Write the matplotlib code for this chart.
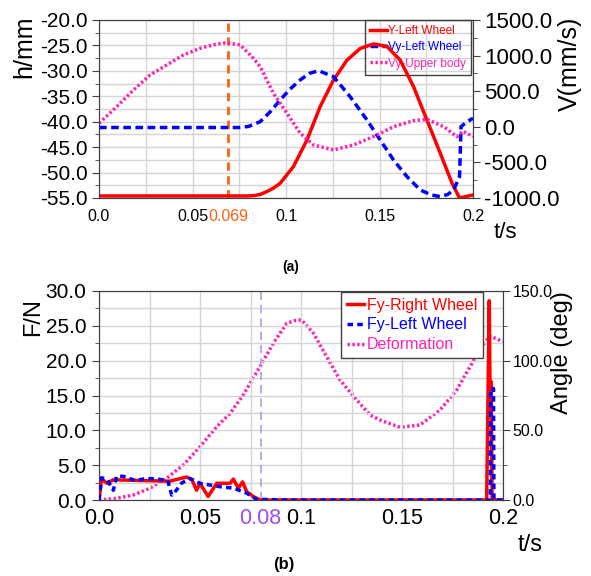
import matplotlib
matplotlib.use('Agg')
import matplotlib.pyplot as plt
from matplotlib.ticker import MultipleLocator, FormatStrFormatter

# (a) wheel height / velocities
t_y_left = [0, 0.080, 0.0835, 0.0862, 0.090, 0.0935, 0.0969, 0.104, 0.1112, 0.1183, 0.1254,
            0.1326, 0.1397, 0.1468, 0.154, 0.1611, 0.1682, 0.1754, 0.1825, 0.1888, 0.1928, 0.2]
y_left = [-54.6, -54.6, -54.5, -54.3, -53.7, -53.0, -52.1, -48.8, -43.6, -37.0, -31.8,
          -27.9, -25.6, -24.7, -25.2, -27.9, -33.1, -39.7, -46.2, -52.1, -55.0, -54.4]

t_vy_left = [0, 0.075, 0.080, 0.0862, 0.0915, 0.0969, 0.1022, 0.1076, 0.1125, 0.1174, 0.1254,
             0.1343, 0.1433, 0.1504, 0.1575, 0.1647, 0.1718, 0.1775, 0.1825, 0.1865, 0.1896,
             0.1928, 0.1936, 0.1968, 0.2]
vy_left = [-10, -10, 5, 72, 210, 377, 530, 658, 750, 788, 704,
           423, 96, -185, -466, -700, -887, -955, -981, -950, -887,
           -700, 2, 72, 120]

t_vy_body = [0, 0.0095, 0.0184, 0.0273, 0.0362, 0.0451, 0.054, 0.063, 0.0683, 0.0755, 0.0826,
             0.0862, 0.0933, 0.1005, 0.1076, 0.1147, 0.1254, 0.1361, 0.1468, 0.1575, 0.1682,
             0.1754, 0.1843, 0.1914, 0.1946, 0.2]
vy_body = [50, 283, 517, 728, 868, 1009, 1102, 1163, 1181, 1150, 962,
           844, 471, 190, -91, -255, -325, -255, -138, 2, 86,
           106, 2, -138, -60, -138]

# (b) wheel forces / deformation angle
t_fy_right = [0, 0.0013, 0.0038, 0.0071, 0.020, 0.035, 0.0434, 0.046, 0.0483, 0.050, 0.054,
              0.0583, 0.0649, 0.0665, 0.069, 0.0711, 0.0731, 0.0764, 0.0797, 0.1919, 0.1932,
              0.1937, 0.1941, 0.1946, 0.2]
fy_right = [0, 3.1, 2.4, 2.9, 2.8, 2.7, 3.3, 2.9, 1.4, 2.4, 0.5,
            2.4, 2.4, 3.0, 1.7, 2.6, 1.2, 0.5, 0, 0, 28.6,
            12, 17, 0, 0]

t_fy_left = [0, 0.0013, 0.004, 0.0071, 0.0087, 0.012, 0.018, 0.0236, 0.029, 0.034, 0.036,
             0.0383, 0.0408, 0.045, 0.050, 0.060, 0.0665, 0.073, 0.078, 0.0936, 0.1937,
             0.1939, 0.1953, 0.1955, 0.2]
fy_left = [0, 3.2, 2.9, 1.4, 3.4, 3.4, 2.8, 3.1, 3.0, 2.8, 0.7,
           1.4, 2.4, 3.1, 2.4, 1.9, 1.7, 1.0, 0.1, 0, 0,
           16, 16, 0, 0]

t_deform = [0, 0.0088, 0.017, 0.0252, 0.0335, 0.0417, 0.05, 0.0583, 0.0649, 0.0714, 0.0797,
            0.0863, 0.0929, 0.0979, 0.1003, 0.1061, 0.1127, 0.1193, 0.1276, 0.1342, 0.1391,
            0.149, 0.1589, 0.1688, 0.1771, 0.1837, 0.1894, 0.1936, 0.2]
deform = [0, 1.2, 3.6, 8.4, 15.6, 25.1, 38.3, 52.6, 62.2, 75.4, 95.7,
          112.5, 126.8, 129.2, 129.2, 119.7, 102.9, 86.1, 71.8, 61, 57.4,
          52.2, 53.8, 64.6, 79, 95.7, 110, 117.7, 113.6]

x_ticks_a = [0.0, 0.05, 0.069, 0.1, 0.15, 0.2]
x_labels_a = ['0.0', '0.05', '0.069', '0.1', '0.15', '0.2']
x_ticks_b = [0.0, 0.05, 0.08, 0.1, 0.15, 0.2]
x_labels_b = ['0.0', '0.05', '0.08', '0.1', '0.15', '0.2']

RED = '#ff0000'
BLUE = '#0000ff'
PINK = '#ff22b4'
ORANGE = '#ff6010'
PURPLE = '#9a4df0'
SPINE = '#404040'
GRID = '#d4d4d4'
DOTS = (0, (0.7, 0.7))

W, H = 591, 576
plt.rcParams['font.family'] = ['Liberation Sans', 'DejaVu Sans']
fig = plt.figure(figsize=(W / 100, H / 100), dpi=100)


def px(x0, y0, x1, y1):
    return [x0 / W, 1 - y1 / H, (x1 - x0) / W, (y1 - y0) / H]


def style(ax):
    for s in ax.spines.values():
        s.set_color(SPINE)
    ax.xaxis.remove_overlapping_locs = False
    ax.yaxis.remove_overlapping_locs = False
    ax.xaxis.set_minor_locator(MultipleLocator(0.025))
    ax.grid(True, which='minor', color=GRID, lw=1.0)
    ax.grid(False, which='major')
    ax.set_axisbelow(True)


def right_axis(ax, step, size, pad):
    ax.yaxis.set_major_locator(MultipleLocator(step))
    ax.yaxis.set_minor_locator(MultipleLocator(step / 2))
    ax.yaxis.set_major_formatter(FormatStrFormatter('%.1f'))
    ax.tick_params(axis='y', which='major', labelsize=size, length=5, color=SPINE, pad=pad)
    ax.tick_params(axis='y', which='minor', length=3, color=SPINE)
    for s in ax.spines.values():
        s.set_color(SPINE)


# ---------- (a) ----------
ax1 = fig.add_axes(px(99, 20, 473, 198))
style(ax1)
ax1.set_xlim(0, 0.2)
ax1.set_ylim(-55, -20)
ax1.yaxis.set_major_locator(MultipleLocator(5))
ax1.yaxis.set_minor_locator(MultipleLocator(2.5))
ax1.yaxis.set_major_formatter(FormatStrFormatter('%.1f'))
ax1.set_xticks(x_ticks_a, x_labels_a)
ax1.tick_params(axis='y', which='major', labelsize=15, length=5, color=SPINE, pad=3)
ax1.tick_params(axis='y', which='minor', length=3, color=SPINE)
ax1.tick_params(axis='x', which='both', length=0, labelsize=11.5, pad=8)
ax1.get_xticklabels()[2].set_color(ORANGE)
ax1.axvline(0.069, color=ORANGE, lw=2, ls=(0, (3, 2)), zorder=1)
l1, = ax1.plot(t_y_left, y_left, color=RED, lw=2.5, label='Y-Left Wheel', zorder=3)

ax2 = ax1.twinx()
ax2.set_ylim(-1000, 1500)
right_axis(ax2, 500, 16, 3)
l2, = ax2.plot(t_vy_left, vy_left, color=BLUE, lw=2.5, ls=(0, (2.2, 1.3)), label='Vy-Left Wheel')
l3, = ax2.plot(t_vy_body, vy_body, color=PINK, lw=2.5, ls=DOTS, label='Vy-Upper body')
leg = ax1.legend(handles=[l1, l2, l3], loc='upper right', bbox_to_anchor=(0.995, 1.0),
                 fontsize=8.5, labelcolor='linecolor', fancybox=False, edgecolor=SPINE,
                 framealpha=1, handlelength=1.4, handletextpad=0.1, borderpad=0.45,
                 labelspacing=0.35, borderaxespad=0.0)
leg.get_frame().set_linewidth(1)
leg.get_frame().set_facecolor('none')
leg.set_zorder(2)

fig.text(24 / W, 1 - 47 / H, 'h/mm', rotation=90, ha='center', va='center', fontsize=18)
fig.text(570 / W, 1 - 64 / H, 'V(mm/s)', rotation=90, ha='center', va='center', fontsize=18)
fig.text(505 / W, 1 - 233 / H, 't/s', ha='center', va='center', fontsize=16)
fig.text(291 / W, 1 - 267 / H, '(a)', ha='center', va='center', fontsize=10, fontweight='bold')

# ---------- (b) ----------
ax3 = fig.add_axes(px(99, 291, 503, 500))
style(ax3)
ax3.set_xlim(0, 0.2)
ax3.set_ylim(0, 30)
ax3.yaxis.set_major_locator(MultipleLocator(5))
ax3.yaxis.set_minor_locator(MultipleLocator(2.5))
ax3.yaxis.set_major_formatter(FormatStrFormatter('%.1f'))
ax3.set_xticks(x_ticks_b, x_labels_b)
ax3.tick_params(axis='y', which='major', labelsize=15, length=5, color=SPINE, pad=4)
ax3.tick_params(axis='y', which='minor', length=3, color=SPINE)
ax3.tick_params(axis='x', which='both', length=0, labelsize=15.5, pad=6)
ax3.get_xticklabels()[2].set_color(PURPLE)
ax3.axvline(0.08, color='#b894ee', lw=1.2, ls=(0, (5, 3)), zorder=1)
l4, = ax3.plot(t_fy_right, fy_right, color=RED, lw=2.5, label='Fy-Right Wheel', zorder=3)
l5, = ax3.plot(t_fy_left, fy_left, color=BLUE, lw=2.5, ls=(0, (1.6, 1.2)), label='Fy-Left Wheel', zorder=4)

ax4 = ax3.twinx()
ax4.set_ylim(0, 150)
right_axis(ax4, 50, 11.5, 2)
l6, = ax4.plot(t_deform, deform, color=PINK, lw=2.5, ls=DOTS, label='Deformation')
ax3.set_zorder(ax4.get_zorder() + 1)
ax3.patch.set_visible(False)
leg2 = ax3.legend(handles=[l4, l5, l6], loc='upper right', bbox_to_anchor=(0.95, 0.995),
                  fontsize=11.5, labelcolor='linecolor', fancybox=False,
                  edgecolor=SPINE, framealpha=1, handlelength=1.1, handletextpad=0.15,
                  borderpad=0.35, labelspacing=0.3, borderaxespad=0.0)
leg2.get_frame().set_linewidth(1)

fig.text(33 / W, 1 - 317 / H, 'F/N', rotation=90, ha='center', va='center', fontsize=17)
fig.text(562 / W, 1 - 353 / H, 'Angle (deg)', rotation=90, ha='center', va='center', fontsize=17)
fig.text(530 / W, 1 - 545 / H, 't/s', ha='center', va='center', fontsize=17)
fig.text(284 / W, 1 - 565 / H, '(b)', ha='center', va='center', fontsize=12, fontweight='bold')

fig.savefig('out.png', dpi=100)
